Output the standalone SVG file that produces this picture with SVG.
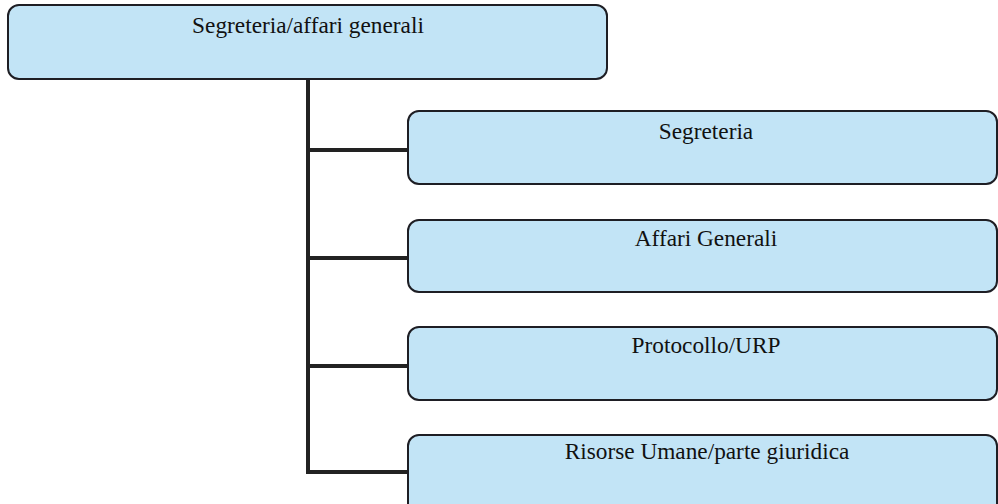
<svg xmlns="http://www.w3.org/2000/svg" width="998" height="504" viewBox="0 0 998 504">
<style>
.box{fill:#c2e4f6;stroke:#1e1e24;stroke-width:2}
.lbl{font-family:"Liberation Serif","Times New Roman",serif;font-size:23.3px;fill:#111;text-anchor:middle}
.conn{fill:none;stroke:#222;stroke-width:4}
</style>
<rect width="998" height="504" fill="#ffffff"/>
<g id="connectors">
<path class="conn" d="M308 79 V472 H409"/>
<path class="conn" d="M308 150 H409"/>
<path class="conn" d="M308 258 H409"/>
<path class="conn" d="M308 366 H409"/>
</g>
<g id="root">
<rect class="box" x="8" y="5" width="599" height="74" rx="11"/>
<text class="lbl" x="308" y="33">Segreteria/affari generali</text>
</g>
<g id="segreteria">
<rect class="box" x="408" y="111" width="589" height="73" rx="11"/>
<text class="lbl" x="706" y="139">Segreteria</text>
</g>
<g id="affari-generali">
<rect class="box" x="408" y="220" width="589" height="72" rx="11"/>
<text class="lbl" x="706" y="246">Affari Generali</text>
</g>
<g id="protocollo">
<rect class="box" x="408" y="327" width="589" height="73" rx="11"/>
<text class="lbl" x="706" y="353">Protocollo/URP</text>
</g>
<g id="risorse-umane">
<rect class="box" x="408" y="435" width="589" height="80" rx="11"/>
<text class="lbl" x="707" y="459">Risorse Umane/parte giuridica</text>
</g>
</svg>
